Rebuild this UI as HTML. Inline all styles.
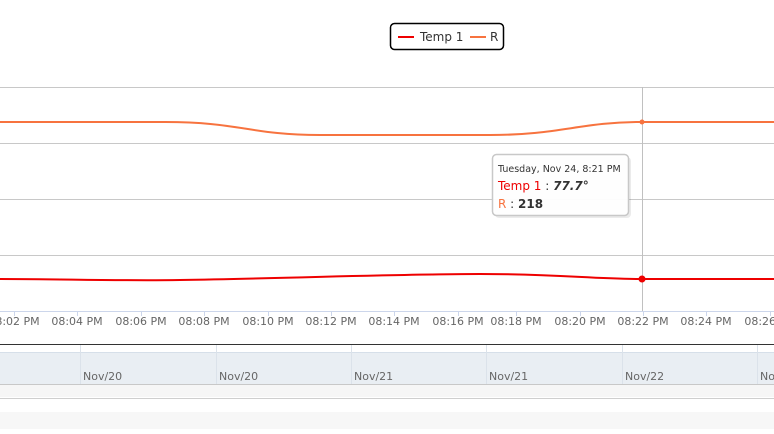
<!DOCTYPE html>
<html><head><meta charset="utf-8"><style>
body{margin:0;background:#fff;}
svg text{font-family:"DejaVu Sans","Liberation Sans",sans-serif;}
</style></head><body>
<svg width="774" height="429" viewBox="0 0 774 429" xmlns="http://www.w3.org/2000/svg">
<rect width="774" height="429" fill="#fff"/>
<g stroke="#c8c8c8" stroke-width="1">
<line x1="0" y1="87.5" x2="774" y2="87.5"/>
<line x1="0" y1="143.5" x2="774" y2="143.5"/>
<line x1="0" y1="199.5" x2="774" y2="199.5"/>
<line x1="0" y1="255.5" x2="774" y2="255.5"/>
</g>
<line x1="0" y1="311.5" x2="774" y2="311.5" stroke="#ccd6eb"/>
<g stroke="#ccd6eb">
<line x1="14.5" y1="311" x2="14.5" y2="316"/><line x1="77.5" y1="311" x2="77.5" y2="316"/>
<line x1="141.5" y1="311" x2="141.5" y2="316"/><line x1="204.5" y1="311" x2="204.5" y2="316"/>
<line x1="268.5" y1="311" x2="268.5" y2="316"/><line x1="331.5" y1="311" x2="331.5" y2="316"/>
<line x1="394.5" y1="311" x2="394.5" y2="316"/><line x1="458.5" y1="311" x2="458.5" y2="316"/>
<line x1="516.5" y1="311" x2="516.5" y2="316"/><line x1="580.5" y1="311" x2="580.5" y2="316"/>
<line x1="643.5" y1="311" x2="643.5" y2="316"/><line x1="706.5" y1="311" x2="706.5" y2="316"/>
<line x1="770.5" y1="311" x2="770.5" y2="316"/>
</g>
<line x1="642.5" y1="87" x2="642.5" y2="311" stroke="#c0c0c0"/>
<path d="M0 122 L165 122 C240 122,250 135,320 135 L490 135 C560 135,580 122,642 122 L774 122" fill="none" stroke="#f7733f" stroke-width="2"/>
<circle cx="642" cy="122" r="2.5" fill="#f7733f"/>
<path d="M0 279 C60 279,120 281,180 280 C300 278,400 274,480 274 C560 274,590 279,642 279 L774 279" fill="none" stroke="#ee0000" stroke-width="2"/>
<circle cx="642" cy="279" r="3.5" fill="#ee0000"/>
<g font-size="11" fill="#666" text-anchor="middle">
<text x="14" y="325">08:02 PM</text><text x="77" y="325">08:04 PM</text>
<text x="141" y="325">08:06 PM</text><text x="204" y="325">08:08 PM</text>
<text x="268" y="325">08:10 PM</text><text x="331" y="325">08:12 PM</text>
<text x="394" y="325">08:14 PM</text><text x="458" y="325">08:16 PM</text>
<text x="516" y="325">08:18 PM</text><text x="580" y="325">08:20 PM</text>
<text x="643" y="325">08:22 PM</text><text x="706" y="325">08:24 PM</text>
<text x="770" y="325">08:26 PM</text>
</g>
<line x1="0" y1="344.5" x2="774" y2="344.5" stroke="#333" stroke-width="1"/>
<rect x="0" y="352" width="774" height="32" fill="#e9eef3"/>
<line x1="0" y1="352.5" x2="774" y2="352.5" stroke="#d6dfe9"/>
<line x1="0" y1="384.5" x2="774" y2="384.5" stroke="#c8c8c8"/>
<rect x="0" y="385" width="774" height="12" fill="#f6f6f6"/>
<line x1="0" y1="398.5" x2="774" y2="398.5" stroke="#cfcfcf"/>
<rect x="0" y="412" width="774" height="17" fill="#f7f7f7"/>
<g stroke="#dbe2ea">
<line x1="80.5" y1="345" x2="80.5" y2="384"/><line x1="216.5" y1="345" x2="216.5" y2="384"/>
<line x1="351.5" y1="345" x2="351.5" y2="384"/><line x1="486.5" y1="345" x2="486.5" y2="384"/>
<line x1="622.5" y1="345" x2="622.5" y2="384"/><line x1="757.5" y1="345" x2="757.5" y2="384"/>
</g>
<g font-size="11" fill="#666">
<text x="83" y="380">Nov/20</text><text x="219" y="380">Nov/20</text>
<text x="354" y="380">Nov/21</text><text x="489" y="380">Nov/21</text>
<text x="625" y="380">Nov/22</text><text x="760" y="380">Nov/22</text>
</g>
<rect x="390.5" y="23.5" width="113" height="26" rx="4" fill="#fff" stroke="#000" stroke-width="1.5"/>
<line x1="398" y1="37" x2="414" y2="37" stroke="#ee0000" stroke-width="2"/>
<text x="420" y="41" font-size="12" fill="#333">Temp 1</text>
<line x1="470" y1="37" x2="486" y2="37" stroke="#f7733f" stroke-width="2"/>
<text x="490" y="41" font-size="12" fill="#333">R</text>
<rect x="494" y="156" width="136" height="61" rx="4" fill="#000" opacity="0.08" transform="translate(1,1)"/>
<rect x="492.5" y="154.5" width="136" height="61" rx="4" fill="#fff" fill-opacity="0.95" stroke="#c8c8c8" stroke-width="1.5"/>
<text x="498" y="172" font-size="9.5" fill="#333">Tuesday, Nov 24, 8:21 PM</text>
<text x="498" y="190" font-size="12"><tspan fill="#ee0000">Temp 1</tspan><tspan fill="#333"> :  </tspan><tspan fill="#333" font-weight="bold" font-style="italic">77.7°</tspan></text>
<text x="498" y="208" font-size="12"><tspan fill="#f7733f">R</tspan><tspan fill="#333"> :  </tspan><tspan fill="#333" font-weight="bold">218</tspan></text>
</svg>
</body></html>
